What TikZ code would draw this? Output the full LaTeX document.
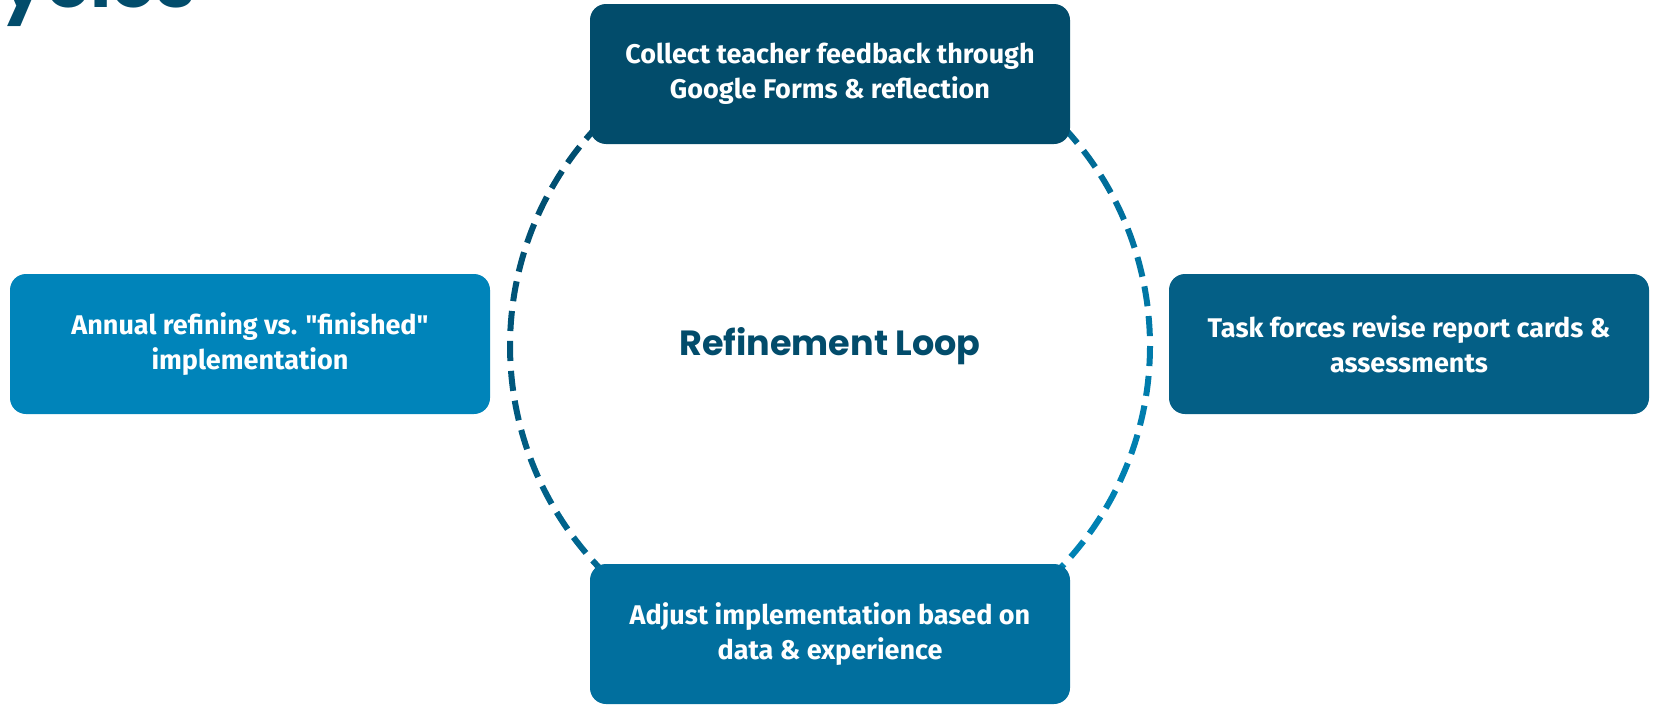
\documentclass[tikz,border=0pt]{standalone}
\usepackage{fontspec}
\usepackage{tikz}
\newfontfamily\boxfont{Fira Sans}
\newfontfamily\loopfont{Poppins}

\definecolor{navy}{HTML}{024C6B}
\definecolor{steel}{HTML}{045F86}
\definecolor{ocean}{HTML}{016F9E}
\definecolor{sky}{HTML}{0084BA}
\definecolor{loopdark}{HTML}{004E70}
\definecolor{looplight}{HTML}{0082B4}

\tikzset{
  stage/.style={rounded corners=16pt, minimum width=480pt, minimum height=140pt, inner sep=0pt,
    text=white, align=center, font=\boxfont\bfseries\fontsize{27}{35}\selectfont},
}

\begin{document}
\begin{tikzpicture}[x=1pt,y=-1pt]
\useasboundingbox (0,0) rectangle (1653,704);
\clip (0,0) rectangle (1653,704);

% Title, cut at the top edge
\node[font=\loopfont\bfseries\fontsize{72}{72}\selectfont, text=navy, anchor=base east, inner sep=0pt] (title) at (196,7) {Cycles};

% Dashed loop, darker at top left
\coordinate (hub) at (830,346);
\foreach \i in {0,...,66} {
  \pgfmathsetmacro\a{\i*5.37313}
  \pgfmathsetmacro\mix{50+50*cos(\a-225)}
  \draw[loopdark!\mix!looplight, line width=6pt] plot[domain=\a:\a+3.6, samples=5] ({830+320*cos(\x)}, {346+320*sin(\x)});
}
\node[font=\loopfont\bfseries\fontsize{35}{35}\selectfont, text=navy] (label) at (hub) {Refinement Loop};

% Stages
\node[stage, fill=navy] (collect) at (830,74) {Collect teacher feedback through\\Google Forms \& reflection};
\node[stage, fill=steel] (revise) at (1409,344) {Task forces revise report cards \&\\assessments};
\node[stage, fill=ocean] (adjust) at (830,634) {Adjust implementation based on\\data \& experience};
\node[stage, fill=sky] (annual) at (250,344) {Annual refining vs. "finished"\\implementation};

\end{tikzpicture}
\end{document}
